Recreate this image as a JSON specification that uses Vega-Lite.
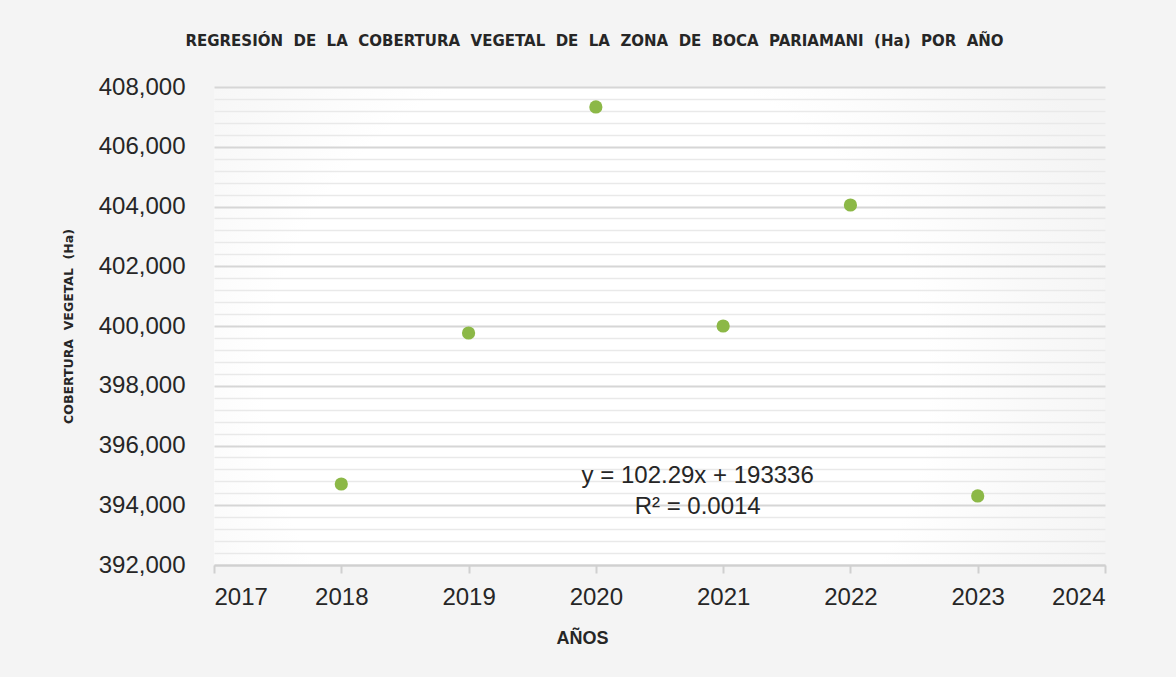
{
  "$schema": "https://vega.github.io/schema/vega-lite/v6.json",
  "autosize": {"type": "none"},
  "width": 891,
  "height": 478,
  "padding": {"left": 214, "top": 87, "right": 71, "bottom": 112},
  "background": "#f4f4f4",
  "config": {
    "font": "Liberation Sans",
    "view": {
      "stroke": null,
      "fill": {
        "gradient": "radial",
        "x1": 0.43, "y1": 0.57, "r1": 0,
        "x2": 0.43, "y2": 0.57, "r2": 0.62,
        "stops": [
          {"offset": 0, "color": "#ffffff"},
          {"offset": 0.6, "color": "#ffffff"},
          {"offset": 0.8, "color": "#f9f9f9"},
          {"offset": 1, "color": "#f4f4f4"}
        ]
      }
    }
  },
  "title": {
    "text": "REGRESIÓN \u00a0DE \u00a0LA \u00a0COBERTURA \u00a0VEGETAL \u00a0DE \u00a0LA \u00a0ZONA \u00a0DE \u00a0BOCA \u00a0PARIAMANI \u00a0(Ha) \u00a0POR \u00a0AÑO",
    "font": "DejaVu Sans",
    "fontSize": 15,
    "fontWeight": "bold",
    "color": "#262626",
    "anchor": "middle",
    "dx": -65,
    "offset": 26
  },
  "layer": [
    {
      "data": {
        "values": [
          {"year": 2018, "cobertura": 394711},
          {"year": 2019, "cobertura": 399766},
          {"year": 2020, "cobertura": 407331},
          {"year": 2021, "cobertura": 400000},
          {"year": 2022, "cobertura": 404050},
          {"year": 2023, "cobertura": 394310}
        ]
      },
      "mark": {"type": "circle", "size": 175, "color": "#8CB847", "opacity": 1},
      "encoding": {
        "x": {
          "field": "year",
          "type": "quantitative",
          "scale": {"domain": [2017, 2024], "nice": false, "zero": false},
          "axis": {
            "title": "AÑOS",
            "titleFontSize": 18,
            "titleFontWeight": "bold",
            "titleColor": "#262626",
            "titleX": 368,
            "titlePadding": 20,
            "values": [2017, 2018, 2019, 2020, 2021, 2022, 2023, 2024],
            "tickCount": 100,
            "format": "d",
            "labelFontSize": 24,
            "labelColor": "#262626",
            "labelPadding": 12,
            "grid": false,
            "domainColor": "#d0d0d0",
            "domainWidth": 2,
            "tickColor": "#d0d0d0",
            "tickWidth": 2,
            "tickSize": 8
          }
        },
        "y": {
          "field": "cobertura",
          "type": "quantitative",
          "scale": {"domain": [392000, 408000], "nice": false, "zero": false},
          "axis": {
            "title": "COBERTURA \u00a0VEGETAL \u00a0(Ha)",
            "titleFont": "DejaVu Sans",
            "titleFontSize": 12.5,
            "titleFontWeight": "bold",
            "titleColor": "#262626",
            "titlePadding": 23,
            "values": [392000, 392400, 392800, 393200, 393600, 394000, 394400, 394800, 395200, 395600, 396000, 396400, 396800, 397200, 397600, 398000, 398400, 398800, 399200, 399600, 400000, 400400, 400800, 401200, 401600, 402000, 402400, 402800, 403200, 403600, 404000, 404400, 404800, 405200, 405600, 406000, 406400, 406800, 407200, 407600, 408000],
            "tickCount": 100,
            "labelExpr": "datum.value % 2000 === 0 ? format(datum.value, ',') : ''",
            "labelOverlap": false,
            "labelFontSize": 24,
            "labelColor": "#262626",
            "labelPadding": 29,
            "domain": false,
            "ticks": false,
            "grid": true,
            "gridColor": {"condition": {"test": "datum.value % 2000 === 0", "value": "#d6d6d6"}, "value": "#e9e9e9"},
            "gridWidth": {"condition": {"test": "datum.value % 2000 === 0", "value": 2}, "value": 1.5}
          }
        }
      }
    },
    {
      "data": {"values": [{"eq": "y = 102.29x + 193336\nR² = 0.0014"}]},
      "mark": {"type": "text", "fontSize": 24, "color": "#262626", "align": "center", "baseline": "middle", "lineBreak": "\n", "lineHeight": 31},
      "encoding": {
        "text": {"field": "eq"},
        "x": {"datum": 2020.8, "type": "quantitative"},
        "y": {"datum": 394979, "type": "quantitative"}
      }
    }
  ]
}
